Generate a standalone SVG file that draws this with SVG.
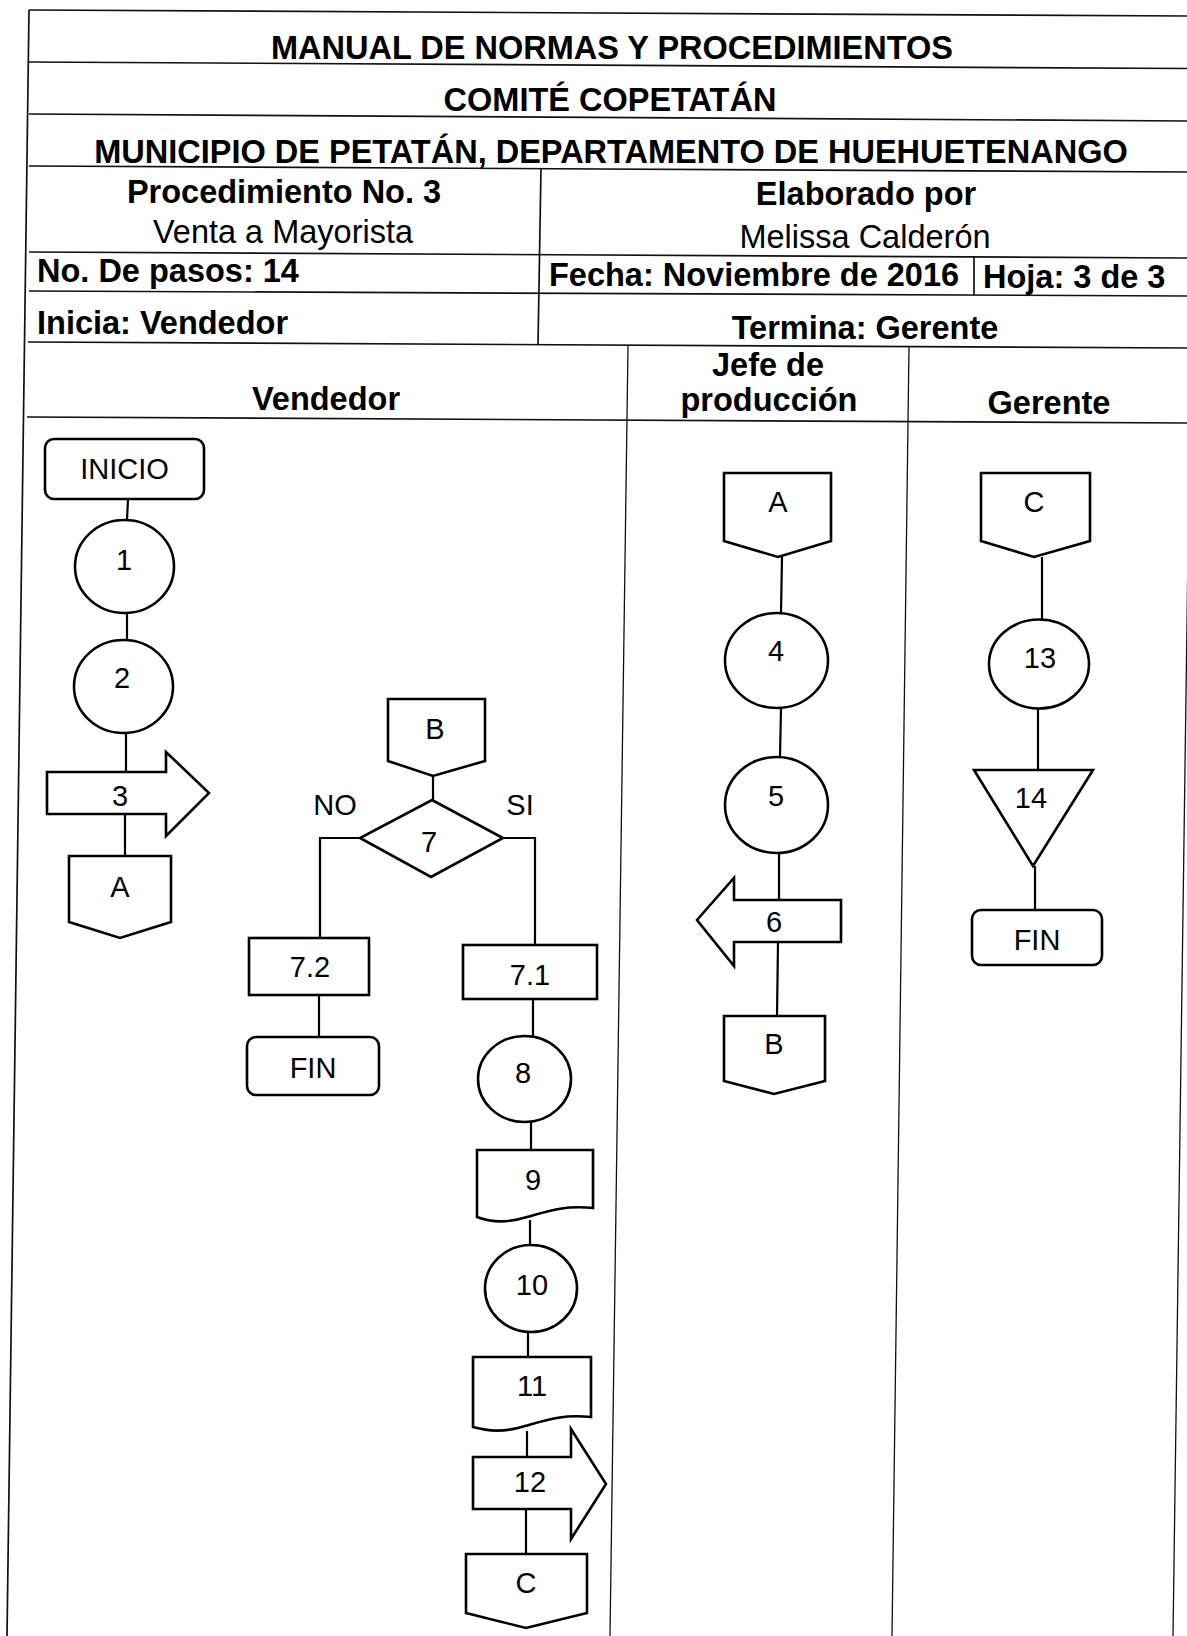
<svg xmlns="http://www.w3.org/2000/svg" width="1187" height="1636" viewBox="0 0 1187 1636">
<style>
.bg{fill:#fff}
.tl{stroke:#111;stroke-width:1.7;fill:none}
.ln{stroke:#111;stroke-width:1.3;fill:none}
.nd{fill:#fff;stroke:#000;stroke-width:2.6;stroke-linejoin:miter}
.cn{stroke:#000;stroke-width:2.2;fill:none}
.h{font-family:"Liberation Sans",Arial,sans-serif;font-weight:bold;font-size:32.5px;fill:#000}
.r{font-family:"Liberation Sans",Arial,sans-serif;font-size:32.5px;fill:#000}
.t{font-family:"Liberation Sans",Arial,sans-serif;font-size:29px;fill:#000;text-anchor:middle}
.c{text-anchor:middle}
</style>
<rect class="bg" x="0" y="0" width="1187" height="1636"/>
<g id="table">
<line class="tl" x1="29" y1="10" x2="1187" y2="16"/>
<line class="tl" x1="29" y1="62" x2="1187" y2="68.5"/>
<line class="tl" x1="29" y1="114" x2="1187" y2="121"/>
<line class="tl" x1="29" y1="166" x2="1187" y2="172"/>
<line class="tl" x1="29" y1="252" x2="1187" y2="258"/>
<line class="tl" x1="29" y1="291" x2="1187" y2="296"/>
<line class="tl" x1="28" y1="342" x2="1187" y2="348"/>
<line class="tl" x1="27" y1="417" x2="1187" y2="423"/>
<line class="tl" x1="29" y1="10" x2="7" y2="1636"/>
<line class="tl" x1="541" y1="168" x2="538" y2="345"/>
<line class="tl" x1="974" y1="256" x2="974" y2="295"/>
<line class="ln" x1="628" y1="346" x2="610" y2="1636"/>
<line class="ln" x1="909" y1="347" x2="892" y2="1636"/>
<line class="ln" x1="1188" y1="550" x2="1173" y2="1636"/>
</g>
<g id="header">
<text class="h c" x="612" y="59">MANUAL DE NORMAS Y PROCEDIMIENTOS</text>
<text class="h c" x="610" y="111">COMITÉ COPETATÁN</text>
<text class="h c" x="611" y="163">MUNICIPIO DE PETATÁN, DEPARTAMENTO DE HUEHUETENANGO</text>
<text class="h c" x="284" y="203">Procedimiento No. 3</text>
<text class="r c" x="283" y="243">Venta a Mayorista</text>
<text class="h c" x="866" y="205">Elaborado por</text>
<text class="r c" x="865" y="248">Melissa Calderón</text>
<text class="h" x="37" y="282">No. De pasos: 14</text>
<text class="h" x="549" y="286">Fecha: Noviembre de 2016</text>
<text class="h" x="983" y="288">Hoja: 3 de 3</text>
<text class="h" x="37" y="334">Inicia: Vendedor</text>
<text class="h c" x="865" y="339">Termina: Gerente</text>
<text class="h c" x="326" y="410">Vendedor</text>
<text class="h c" x="768" y="376">Jefe de</text>
<text class="h c" x="769" y="411">producción</text>
<text class="h c" x="1049" y="414">Gerente</text>
</g>
<g id="connectors">
<line class="cn" x1="128" y1="499" x2="127" y2="520"/>
<line class="cn" x1="127" y1="613" x2="127" y2="640"/>
<line class="cn" x1="126" y1="733" x2="126" y2="772"/>
<line class="cn" x1="125" y1="814" x2="125" y2="856"/>
<line class="cn" x1="433" y1="776" x2="433" y2="800"/>
<polyline class="cn" points="360,838 320,838 320,938"/>
<polyline class="cn" points="503,838 535,838 535,945"/>
<line class="cn" x1="319" y1="995" x2="319" y2="1037"/>
<line class="cn" x1="533" y1="999" x2="533" y2="1036"/>
<line class="cn" x1="531" y1="1122" x2="531" y2="1150"/>
<line class="cn" x1="530" y1="1220" x2="530" y2="1245"/>
<line class="cn" x1="528" y1="1332" x2="528" y2="1357"/>
<line class="cn" x1="527" y1="1431" x2="527" y2="1457"/>
<line class="cn" x1="526" y1="1509" x2="526" y2="1554"/>
<line class="cn" x1="782" y1="557" x2="781" y2="613"/>
<line class="cn" x1="781" y1="708" x2="780" y2="757"/>
<line class="cn" x1="779" y1="853" x2="779" y2="900"/>
<line class="cn" x1="778" y1="942" x2="777" y2="1016"/>
<line class="cn" x1="1042" y1="557" x2="1042" y2="620"/>
<line class="cn" x1="1038" y1="709" x2="1038" y2="770"/>
<line class="cn" x1="1035" y1="866" x2="1035" y2="910"/>
<text class="t" x="335" y="815">NO</text>
<text class="t" x="520" y="815">SI</text>
</g>
<g id="n-inicio"><rect class="nd" x="45" y="439" width="159" height="60" rx="9"/><text class="t" x="124.5" y="479">INICIO</text></g>
<g id="n1"><ellipse class="nd" cx="124.5" cy="566.5" rx="49.5" ry="46.5"/><text class="t" x="124" y="570">1</text></g>
<g id="n2"><ellipse class="nd" cx="123.5" cy="686.5" rx="49.5" ry="46.5"/><text class="t" x="122" y="688">2</text></g>
<g id="n3"><polygon class="nd" points="47,772 166,772 166,752 209,793 166,836 166,814 47,814"/><text class="t" x="120" y="806">3</text></g>
<g id="n-a1"><polygon class="nd" points="69,856 171,856 171,922 120,938 69,922"/><text class="t" x="120" y="897">A</text></g>
<g id="n-b2"><polygon class="nd" points="388,699 485,699 485,761 433,776 388,761"/><text class="t" x="435" y="739">B</text></g>
<g id="n7"><polygon class="nd" points="432,800 503,838 431,877 360,838"/><text class="t" x="429" y="852">7</text></g>
<g id="n72"><rect class="nd" x="249" y="938" width="120" height="57"/><text class="t" x="310" y="977">7.2</text></g>
<g id="n-fin1"><rect class="nd" x="247" y="1037" width="132" height="58" rx="9"/><text class="t" x="313" y="1078">FIN</text></g>
<g id="n71"><rect class="nd" x="463" y="945" width="134" height="54"/><text class="t" x="530" y="985">7.1</text></g>
<g id="n8"><ellipse class="nd" cx="524.5" cy="1079" rx="46.5" ry="43"/><text class="t" x="523" y="1083">8</text></g>
<g id="n9"><path class="nd" d="M477,1150 H593 V1208 C565,1205 548,1211 527,1217 C505,1224 490,1222 477,1217 Z"/><text class="t" x="533" y="1190">9</text></g>
<g id="n10"><ellipse class="nd" cx="531" cy="1288.5" rx="46" ry="43.5"/><text class="t" x="532" y="1295">10</text></g>
<g id="n11"><path class="nd" d="M473,1357 H591 V1417 C563,1414 546,1420 525,1426 C503,1433 488,1431 473,1427 Z"/><text class="t" x="532" y="1396">11</text></g>
<g id="n12"><polygon class="nd" points="473,1457 571,1457 571,1429 606,1484 571,1539 571,1509 473,1509"/><text class="t" x="530" y="1492">12</text></g>
<g id="n-c1"><polygon class="nd" points="466,1554 587,1554 587,1613 526,1628 466,1613"/><text class="t" x="526" y="1593">C</text></g>
<g id="n-a2"><polygon class="nd" points="724,473 831,473 831,541 778,557 724,541"/><text class="t" x="778" y="512">A</text></g>
<g id="n4"><ellipse class="nd" cx="776.5" cy="660.5" rx="51.5" ry="47.5"/><text class="t" x="776" y="661">4</text></g>
<g id="n5"><ellipse class="nd" cx="776.5" cy="805" rx="51.5" ry="48"/><text class="t" x="776" y="806">5</text></g>
<g id="n6"><polygon class="nd" points="841,900 734,900 734,878 697,920 734,966 734,942 841,942"/><text class="t" x="774" y="932">6</text></g>
<g id="n-b1"><polygon class="nd" points="724,1016 825,1016 825,1081 774,1094 724,1081"/><text class="t" x="774" y="1054">B</text></g>
<g id="n-c2"><polygon class="nd" points="981,473 1090,473 1090,541 1034,557 981,541"/><text class="t" x="1034" y="512">C</text></g>
<g id="n13"><ellipse class="nd" cx="1039" cy="664" rx="50" ry="44.5"/><text class="t" x="1040" y="668">13</text></g>
<g id="n14"><polygon class="nd" points="974,770 1093,770 1033,866"/><text class="t" x="1031" y="808">14</text></g>
<g id="n-fin2"><rect class="nd" x="972" y="910" width="130" height="55" rx="9"/><text class="t" x="1037" y="950">FIN</text></g>
</svg>
